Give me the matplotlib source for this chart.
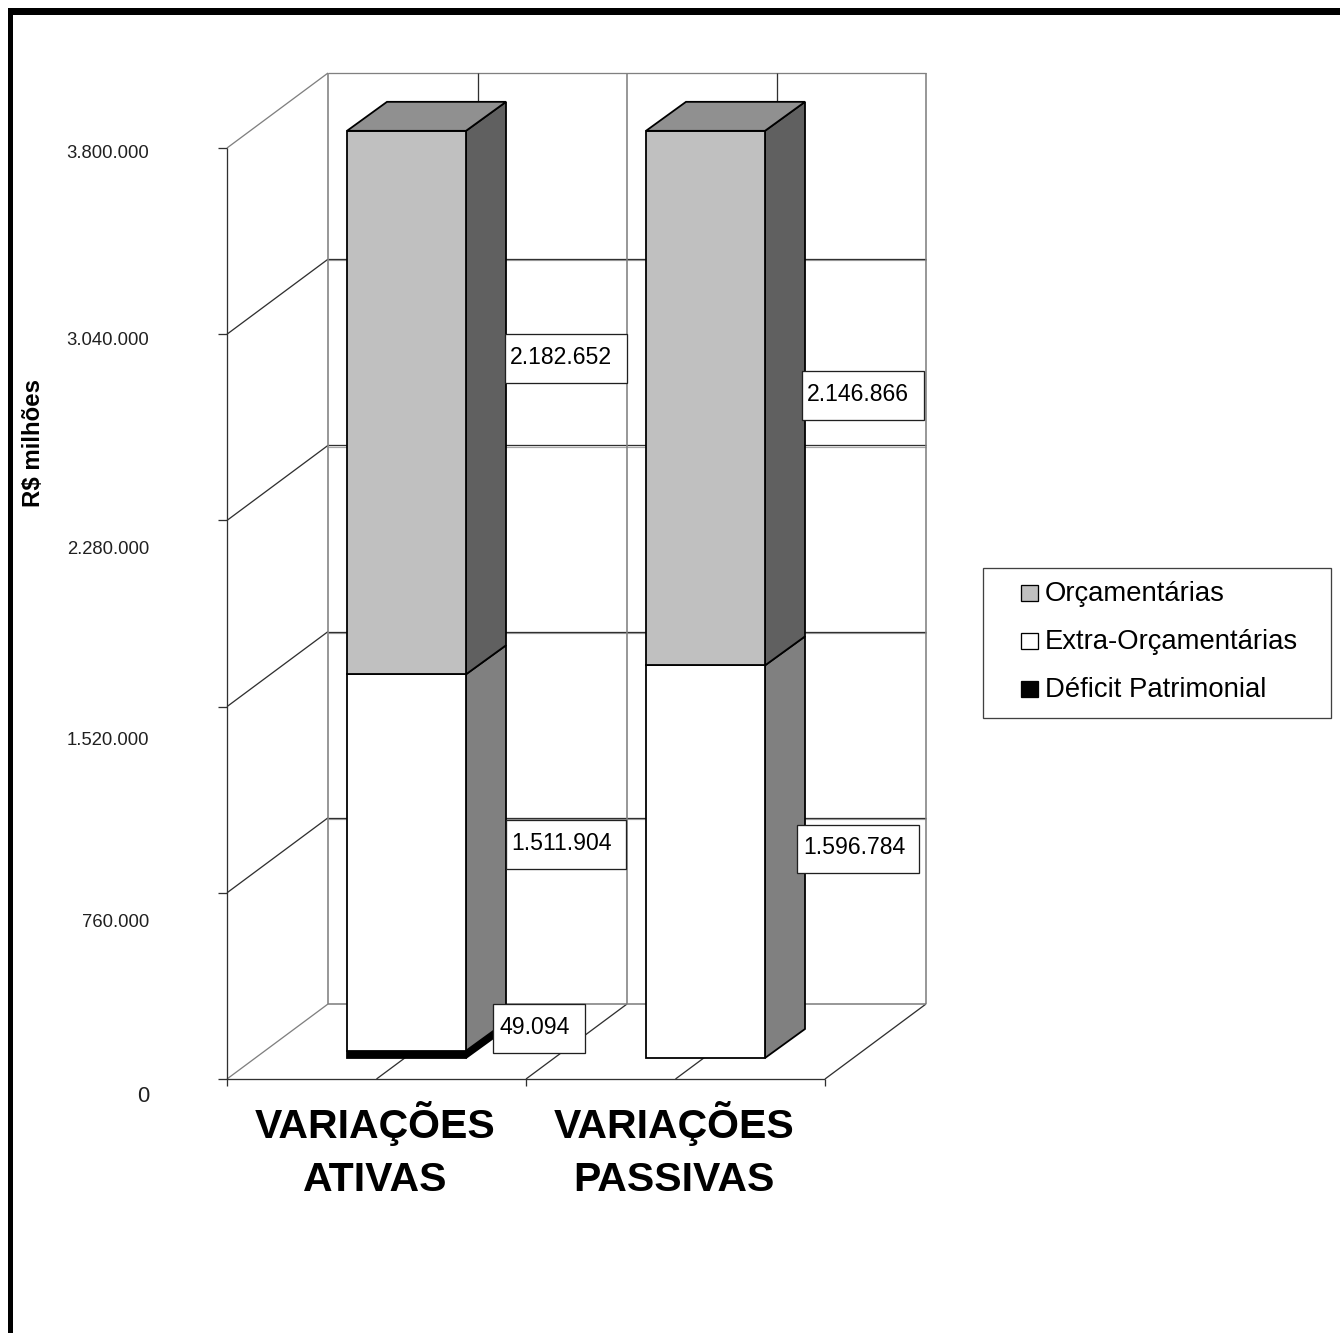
import matplotlib
matplotlib.use("Agg")
import matplotlib.pyplot as plt
from matplotlib.patches import Polygon, Rectangle

plt.rcParams["font.family"] = ["Liberation Sans", "DejaVu Sans"]

categories = ["VARIAÇÕES\nATIVAS", "VARIAÇÕES\nPASSIVAS"]
deficit = [49094, 0]
extra = [1511904, 1596784]
orcamentarias = [2182652, 2146866]
tick_values = [0, 760000, 1520000, 2280000, 3040000, 3800000]
tick_labels = ["0", "760.000", "1.520.000", "2.280.000", "3.040.000", "3.800.000"]
legend_names = ["Orçamentárias", "Extra-Orçamentárias", "Déficit Patrimonial"]

# everything is laid out in image pixels
W, H = 1340, 1333
X0, X1, Y0 = 227, 825, 1079
AXIS_SCALE = 931 / 3800000
DX, DY = 101, -75
BAR_SCALE = 0.000249
BAR_BASE, BAR_FLOOR = 1063, 1058
BAR_LEFT = [347, 646]
BAR_W, BAR_DX, BAR_DY = 119, 40, -29
GRAY, DARK = "#808080", "#303030"


def px(size):
    return size * 0.72


def axis_y(value):
    return Y0 - value * AXIS_SCALE


def bar_y(value):
    return min(BAR_BASE - value * BAR_SCALE, BAR_FLOOR)


def line(ax, xs, ys, color=DARK, width=1.3, z=1):
    ax.plot(xs, ys, color=color, lw=px(width), solid_capstyle="butt", zorder=z)


def draw_walls(ax):
    top = axis_y(tick_values[-1])
    for value in tick_values[1:]:
        y = axis_y(value)
        edge = GRAY if value == tick_values[-1] else DARK
        line(ax, [X0, X0 + DX], [y, y + DY], color=edge)
        if value != tick_values[-1]:
            # the wall gridlines have a soft grey shadow just under them
            line(ax, [X0 + DX, X1 + DX], [y + DY + 1.2, y + DY + 1.2], color="#a8a8a8", width=1.2, z=0.9)
        line(ax, [X0 + DX, X1 + DX], [y + DY, y + DY], color=GRAY if value == tick_values[-1] else DARK)
    for value in tick_values:
        y = axis_y(value)
        line(ax, [X0 - 9, X0], [y, y])
    step = (X1 - X0) / 4
    for i in range(5):
        x = X0 + i * step
        color = GRAY if i in (0, 2, 4) else DARK
        line(ax, [x + DX, x + DX], [top + DY, Y0 + DY], color=color, width=1.6 if color == GRAY else 1.3)
        floor_color = GRAY if i == 0 else DARK
        line(ax, [x, x + DX], [Y0, Y0 + DY], color=floor_color)
    line(ax, [X0 + DX, X1 + DX], [Y0 + DY, Y0 + DY], color=GRAY, width=1.6)
    line(ax, [X0, X1], [Y0, Y0])
    line(ax, [X0, X0], [top, Y0 + 7])
    for i in (2, 4):
        line(ax, [X0 + i * step] * 2, [Y0, Y0 + 7])


def draw_segment(ax, left, low, high, front, side, z):
    y_low, y_high = bar_y(low), bar_y(high)
    if y_low - y_high < 0.5:
        return
    right = left + BAR_W
    ax.add_patch(Polygon([(right, y_low), (right + BAR_DX, y_low + BAR_DY),
                          (right + BAR_DX, y_high + BAR_DY), (right, y_high)],
                         fc=side, ec="black", lw=px(1.8), zorder=z, joinstyle="miter"))
    ax.add_patch(Rectangle((left, y_high), BAR_W, y_low - y_high,
                           fc=front, ec="black", lw=px(1.8), zorder=z + 0.1))


def draw_bars(ax):
    for left, d, e, o in zip(BAR_LEFT, deficit, extra, orcamentarias):
        draw_segment(ax, left, 0, d, "black", "black", 3)
        draw_segment(ax, left, d, d + e, "white", "#808080", 4)
        draw_segment(ax, left, d + e, d + e + o, "#c0c0c0", "#606060", 5)
        y = bar_y(d + e + o)
        ax.add_patch(Polygon([(left, y), (left + BAR_DX, y + BAR_DY),
                              (left + BAR_W + BAR_DX, y + BAR_DY), (left + BAR_W, y)],
                             fc="#909090", ec="black", lw=px(1.8), zorder=6))


def value_box(ax, value, x0, x1, y0, y1, text_x):
    ax.add_patch(Rectangle((x0, y0), x1 - x0, y1 - y0, fc="white", ec="#202020", lw=px(1.3), zorder=8))
    label = f"{value:,}".replace(",", ".")
    ax.text(text_x, (y0 + y1) / 2 - 1, label, fontsize=px(23), ha="left", va="center", color="black", zorder=9)


fig = plt.figure(figsize=(W / 100, H / 100), dpi=100)
ax = fig.add_axes([0, 0, 1, 1])
ax.set_xlim(0, W)
ax.set_ylim(H, 0)
ax.axis("off")

# frame of the page, open on the right and at the bottom
ax.add_patch(Rectangle((8, 8), W - 8, 6.5, fc="black", ec="none", zorder=0))
ax.add_patch(Rectangle((8, 8), 5, H - 8, fc="black", ec="none", zorder=0))

draw_walls(ax)
draw_bars(ax)

value_box(ax, orcamentarias[0], 505, 627, 334, 383, 510)
value_box(ax, orcamentarias[1], 802, 924, 371, 420, 807)
value_box(ax, extra[0], 506, 626, 820, 869, 511)
value_box(ax, extra[1], 797, 919, 825, 873, 803)
value_box(ax, deficit[0], 493, 585, 1004, 1053, 499)

tick_text_y = [1097, 922.5, 740.5, 549.5, 340.5, 153.5]
for label, y in zip(tick_labels, tick_text_y):
    if label == "0":
        ax.text(149, y, label, fontsize=px(22), ha="right", va="center", color="#202020")
    else:
        ax.text(149, y, label, fontsize=px(18.5), ha="right", va="center", color="#202020")

ax.text(34, 443, "R$ milhões", fontsize=px(24), fontweight="bold", rotation=90, ha="center", va="center")

for left, name in zip([375, 674], categories):
    ax.text(left, 1150, name, fontsize=px(41), fontweight="bold", ha="center", va="center",
            linespacing=1.47, color="black")

ax.add_patch(Rectangle((983, 568), 348, 150, fc="white", ec="#404040", lw=px(1.3), zorder=2))
swatch_colors = ["#c0c0c0", "white", "black"]
for name, color, y in zip(legend_names, swatch_colors, [592, 640, 688]):
    ax.add_patch(Rectangle((1021, y - 7), 17, 16, fc=color, ec="black", lw=px(1.3), zorder=3))
    ax.text(1045, y + 2, name, fontsize=px(27.5), ha="left", va="center", color="black", zorder=3)

fig.savefig("out.png", dpi=100, facecolor="white")
